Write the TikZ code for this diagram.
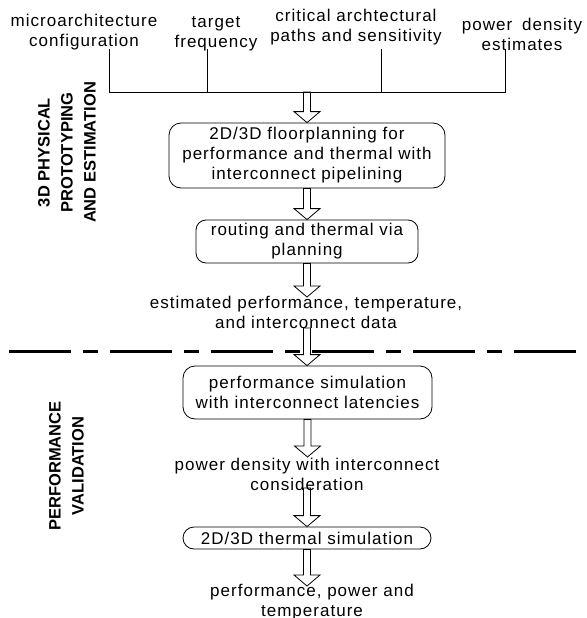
\documentclass[tikz,border=0pt]{standalone}
\usepackage{fontspec}
\setmainfont{Liberation Sans}[LetterSpace=6]
\newfontfamily\labfont{Liberation Sans}
\usetikzlibrary{calc}
\tikzset{
 txt/.style={align=center,inner sep=0pt,font=\fontsize{17}{20}\selectfont},
 stepbox/.style={draw,rounded corners=12pt,line width=0.8pt,align=center,inner sep=0pt,font=\fontsize{17}{20}\selectfont},
 lab/.style={align=center,inner sep=0pt,rotate=90,font=\labfont\bfseries\fontsize{16.5}{23}\selectfont},
 conn/.style={line width=0.8pt},
 hollow/.style={draw,line width=0.8pt,line join=miter},
 sep/.style={line width=3pt,dash pattern=on 62pt off 12pt on 15pt off 12pt},
}
\newcommand\hollowarrow[2]{\path[hollow] let \p1=(#1),\p2=(#2) in (\x1-3.5pt,\y1) -- (\x1-3.5pt,\y2+11pt) -- (\x1-13pt,\y2+11pt) -- (\x1,\y2) -- (\x1+13pt,\y2+11pt) -- (\x1+3.5pt,\y2+11pt) -- (\x1+3.5pt,\y1) -- cycle;}
\begin{document}
\begin{tikzpicture}[x=1pt,y=-1pt]
\useasboundingbox (0,0) rectangle (586,618);
% top inputs
\node[txt] (t1) at (84,32) {microarchitecture\\configuration};
\node[txt] (t2) at (216,33.5) {target\\frequency};
\node[txt] (t3) at (356,27) {critical archtectural\\paths and sensitivity};
\node[txt] (t4) at (522,34) {power\hspace{4pt} density\\estimates};
\coordinate (s1) at (109,49);
\coordinate (s2) at (207,49);
\coordinate (s3) at (381,49);
\coordinate (s4) at (505,49);
\coordinate (j1) at (109,92);
\coordinate (j2) at (207,92);
\coordinate (j3) at (381,92);
\coordinate (j4) at (505,92);
\coordinate (j0) at (307,92);
\draw[conn] (s1) -- (j1) -- (j4) -- (s4);
\draw[conn] (s2) -- (j2);
\draw[conn] (s3) -- (j3);
% left labels
\node[lab] (L1) at (67,152.5) {3D PHYSICAL\\PROTOTYPING\\AND ESTIMATION};
\node[lab] (L2) at (66.5,466) {PERFORMANCE\\VALIDATION};
% boxes
\node[stepbox,minimum width=276pt,minimum height=65pt] (b1) at (307,155.5) {2D/3D floorplanning for\\performance and thermal with\\interconnect pipelining};
\node[stepbox,rounded corners=10pt,minimum width=222pt,minimum height=43pt] (b2) at (307,241.5) {routing and thermal via\\planning};
\node[txt] (e1) at (306,312.5) {estimated performance, temperature,\\and interconnect data};
\coordinate (e1t) at (307,297);
\coordinate (e1b) at (307,328);
\coordinate (dl) at (9,351);
\coordinate (dr) at (576,351);
\draw[sep] (dl) -- (dr);
\node[stepbox,minimum width=249pt,minimum height=53pt] (b3) at (307.5,392.5) {performance simulation\\with interconnect latencies};
\node[txt] (p1) at (307,474.5) {power density with interconnect\\consideration};
\coordinate (p1t) at (307,457);
\coordinate (p1b) at (307,488);
\node[stepbox,rounded corners=11pt,minimum width=248pt,minimum height=22pt] (b4) at (307,538) {2D/3D thermal simulation};
\node[txt] (f1) at (312,602.5) {performance, power and\\temperature};
\coordinate (f1t) at (307,586);
% hollow arrows
\hollowarrow{j0}{b1.north}
\hollowarrow{b1.south}{b2.north}
\hollowarrow{b2.south}{e1t}
\hollowarrow{e1b}{b3.north}
\hollowarrow{b3.south}{p1t}
\hollowarrow{p1b}{b4.north}
\hollowarrow{b4.south}{f1t}
\end{tikzpicture}
\end{document}
